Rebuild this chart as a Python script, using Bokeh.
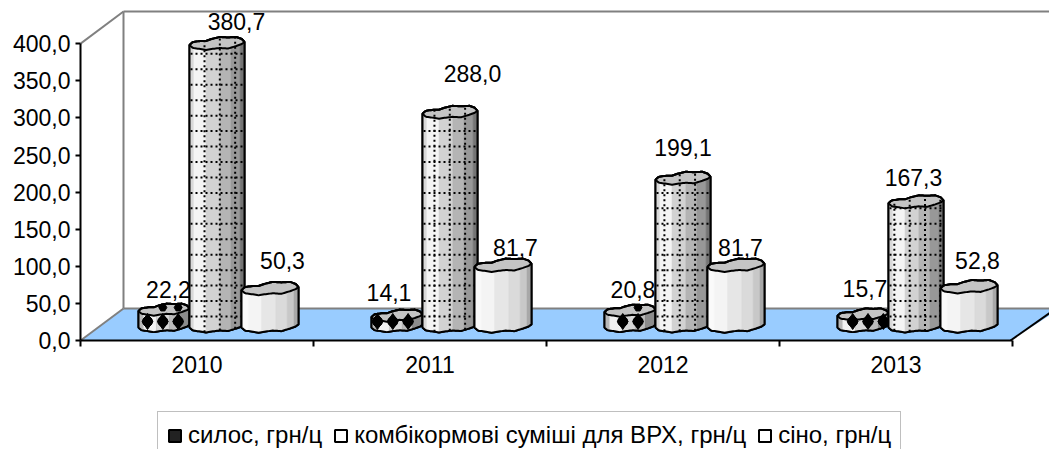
import numpy as np
from bokeh.embed import file_html
from bokeh.resources import INLINE
from bokeh.plotting import figure
from bokeh.layouts import column
from bokeh.models import ColumnDataSource, FixedTicker, Legend, LegendItem, LinearAxis
from bokeh.core.properties import value

# ---- data
categories = ["2010", "2011", "2012", "2013"]
silage = [22.2, 14.1, 20.8, 15.7]
compound = [380.7, 288.0, 199.1, 167.3]
hay = [50.3, 81.7, 81.7, 52.8]
series_names = ["силос, грн/ц", "комбікормові суміші для ВРХ, грн/ц", "сіно, грн/ц"]
y_ticks = [0, 50, 100, 150, 200, 250, 300, 350, 400]
y_tick_labels = ["0,0", "50,0", "100,0", "150,0", "200,0", "250,0", "300,0", "350,0", "400,0"]

# ---- style / geometry (pixels)
FONT = "Liberation Sans"
FS = "23px"
W, H = 1049, 449
CHART_H = 400
LEFT, BASE = 80, 340       # page pixel of the axes origin
PX_CAT = 233.0             # pixels per category
PX_VAL = 0.742             # pixels per value unit
DEPTH_X, DEPTH_Y = 43, 32  # 3-D floor depth
WALL_TOP = 11
FRONT = 13                 # bars stand this far behind the front edge

def sx(px):
    return (px - LEFT) / PX_CAT

def sv(px):
    return px / PX_VAL

p = figure(width=W, height=CHART_H, output_backend="svg", toolbar_location=None,
           x_range=(0, (W - LEFT) / PX_CAT), y_range=(0, BASE / PX_VAL),
           min_border_left=LEFT, min_border_right=0, min_border_top=0,
           min_border_bottom=CHART_H - BASE, outline_line_color=None,
           x_axis_type=None, y_axis_type=None, background_fill_color="white")
p.xgrid.visible = False
p.ygrid.visible = False

yax = LinearAxis(ticker=FixedTicker(ticks=y_ticks), bounds=(0, 400),
                 major_label_overrides=dict(zip(y_ticks, y_tick_labels)))
yax.axis_line_color = "black"; yax.axis_line_width = 2
yax.major_tick_line_color = "black"; yax.major_tick_line_width = 2
yax.major_tick_in = 0; yax.major_tick_out = 5
yax.minor_tick_line_color = None
yax.major_label_standoff = 5
yax.major_label_text_font = FONT; yax.major_label_text_font_size = FS
yax.major_label_text_color = "black"
p.add_layout(yax, "left")

centres = [i + 0.5 for i in range(len(categories))]
xax = LinearAxis(ticker=FixedTicker(ticks=centres, minor_ticks=list(range(len(categories) + 1))),
                 bounds=(0, len(categories)),
                 major_label_overrides=dict(zip(centres, categories)))
xax.axis_line_color = "black"; xax.axis_line_width = 2
xax.major_tick_line_color = None
xax.major_tick_in = 0; xax.major_tick_out = 0
xax.minor_tick_line_color = "black"; xax.minor_tick_line_width = 2
xax.minor_tick_in = 0; xax.minor_tick_out = 6
xax.major_label_standoff = 9
xax.major_label_text_font = FONT; xax.major_label_text_font_size = FS
xax.major_label_text_color = "black"
p.add_layout(xax, "below")

# ---- walls and floor
xmax = 1060
wall_top_v = sv(BASE - WALL_TOP)
depth_v = sv(DEPTH_Y)
p.patch([0, sx(DEPTH_X + LEFT), sx(xmax), sx(LEFT + 4 * PX_CAT - 2)],
        [0, depth_v, depth_v, 0], fill_color="#99ccff", line_color=None, level="underlay")
wall_x = sx(LEFT + DEPTH_X)
p.line([wall_x, wall_x], [depth_v, wall_top_v], line_color="#808080", line_width=2)
p.line([wall_x, sx(xmax)], [wall_top_v, wall_top_v], line_color="#808080", line_width=2)
p.line([wall_x, sx(xmax)], [depth_v, depth_v], line_color="#808080", line_width=2)
p.line([0, wall_x], [0, depth_v], line_color="#808080", line_width=2)
p.line([0, wall_x], [400, wall_top_v], line_color="#808080", line_width=2)
p.line([sx(LEFT + 4 * PX_CAT - 2), sx(1060)], [0, sv(35)], line_color="black", line_width=2)

# ---- lumpy cylinder outline (fraction of width -> px from the left edge level)
U = [0, .06, .2, .3, .4, .55, .7, .85, .95, 1]
UP = [0, 3, 4, 4, 6, 8, 7.5, 8, 6, 3]
LOW = [0, -3, -4, -5, -4, -3, -3.5, -1, 1, 3]

def contour(u, prof, scale):
    return np.interp(u, U, prof) * scale

series = [
    dict(vals=silage, left=58, right=109, fill="#222222", top="#c4c4c4",
         bands=[(0, .1, "#b8b8b8"), (.1, .35, "#f2f2f2"), (.35, .6, "#d8d8d8"), (.6, .8, "#bcbcbc"), (.8, 1, "#8c8c8c")]),
    dict(vals=compound, left=109, right=164, fill="#ffffff", top="#c4c4c4",
         bands=[(0, .08, "#d8d8d8"), (.08, .3, "#f4f4f4"), (.3, .55, "#d2d2d2"), (.55, .75, "#b4b4b4"), (.75, .92, "#989898"), (.92, 1, "#747474")]),
    dict(vals=hay, left=161, right=218, fill="#ffffff", top="#c4c4c4",
         bands=[(0, .12, "#fafafa"), (.12, .35, "#f4f4f4"), (.35, .6, "#e6e6e6"), (.6, .8, "#dadada"), (.8, .92, "#c8c8c8"), (.92, 1, "#a8a8a8")]),
]
label_dx = [[4.5, -8, 3, 2], [19.5, 22.5, 0, -2.5], [12.5, 12.5, 4.5, 8.5]]
label_dy = [[21.5, 24.5, 23, 27], [24, 40, 32, 26], [30, 19, 19, 28]]

labels_x, labels_y, labels_t = [], [], []
for si, s in enumerate(series):
    wpx = s["right"] - s["left"]
    scale = wpx / 55.0
    us = np.linspace(0, 1, 41)
    bx, by = [], []       # whole outline
    tx, ty = [], []       # top faces
    st_x, st_y, st_c = [], [], []
    h_x, h_y, v_x, v_y = [], [], [], []
    front_x, front_y, back_x, back_y = [], [], [], []
    for ci, v in enumerate(s["vals"]):
        x0 = LEFT + ci * PX_CAT + s["left"]
        yb = FRONT
        yt = FRONT + v * PX_VAL
        xs = x0 + us * wpx
        low = contour(us, LOW, scale)
        up = contour(us, UP, scale)
        bx.append(list(sx(np.concatenate([xs, xs[::-1]]))))
        by.append(list(sv(np.concatenate([yb + low, (yt + up)[::-1]]))))
        tx.append(list(sx(np.concatenate([xs, xs[::-1]]))))
        ty.append(list(sv(np.concatenate([yt + low, (yt + up)[::-1]]))))
        for a, b, c in s["bands"]:
            ub = np.linspace(a, b, 7)
            xb = x0 + ub * wpx
            lo = contour(ub, LOW, scale)
            st_x.append(list(sx(np.concatenate([xb, xb[::-1]]))))
            st_y.append(list(sv(np.concatenate([yb + lo, (yt + lo)[::-1]]))))
            st_c.append(c)
        if si == 1:
            k0 = 204.0
            for k in range(0, 60):
                gx = k0 + k * 15.33
                if x0 + 2 < gx < x0 + wpx - 1:
                    u = (gx - x0) / wpx
                    v_x.append([sx(gx), sx(gx)])
                    v_y.append([sv(yb + contour(u, LOW, scale)), sv(yt + contour(u, UP, scale))])
            for k in range(0, 30):
                gy = BASE - (316 - k * 15.45)
                if yb + 3 < gy < yt - 3:
                    h_x.append([sx(x0 + 1), sx(x0 + wpx - 1)])
                    h_y.append([sv(gy), sv(gy)])
        if si == 0:
            for k in range(0, 50):
                gx = 147 + k * 15.33
                if x0 + 3 < gx < x0 + wpx - 3:
                    u = (gx - x0) / wpx
                    front_x.append(sx(gx)); front_y.append(sv(BASE - 321))
                    if BASE - 307 < yt + contour(u, UP, scale) - 1:
                        back_x.append(sx(gx)); back_y.append(sv(BASE - 307))
        labels_x.append(sx(x0 + wpx / 2 + label_dx[si][ci]))
        labels_y.append(sv(yt + label_dy[si][ci]))
        labels_t.append(f"{v:.1f}".replace(".", ","))

    p.patches(bx, by, fill_color=s["fill"], line_color="black", line_width=2)
    p.patches(st_x, st_y, fill_color=st_c, line_color=st_c, line_width=0.5)
    p.patches(tx, ty, fill_color=s["top"], line_color=None)
    if si == 0:
        p.scatter(front_x, front_y, marker="diamond", size=16, fill_color="black", line_color="black")
        p.scatter(front_x, front_y, marker="circle", size=10, fill_color="black", line_color="black")
        p.scatter(back_x, back_y, marker="hex", size=8, fill_color="black", line_color="black")
    if si == 1:
        p.multi_line(h_x, h_y, line_color="black", line_width=2, line_dash="2 3")
        p.multi_line(v_x, v_y, line_color="black", line_width=2, line_dash="2 3")
    p.patches(bx, by, fill_color=None, line_color="black", line_width=2)
    p.patches(tx, ty, fill_color=None, line_color="black", line_width=2)

src = ColumnDataSource(dict(x=labels_x, y=labels_y, t=labels_t))
p.text("x", "y", text="t", source=src, text_align="center", text_baseline="middle",
       text_font=value(FONT), text_font_size=FS, text_color="black")

# ---- legend strip (own small figure, directly below the chart)
LEG_H = H - CHART_H
q = figure(width=W, height=LEG_H, output_backend="svg", toolbar_location=None,
           x_range=(LEFT, W), y_range=(H, CHART_H), min_border=0, outline_line_color=None,
           x_axis_type=None, y_axis_type=None)
q.xgrid.visible = False
q.ygrid.visible = False
items = []
for name, s in zip(series_names, series):
    r = q.patches([[]], [[]], fill_color=s["fill"], line_color="black", line_width=2)
    items.append(LegendItem(label=name, renderers=[r]))
leg = Legend(items=items, orientation="horizontal", location=(157 - LEFT, -10),
             glyph_width=15, glyph_height=15, label_standoff=6, spacing=11, padding=9, margin=0,
             label_text_font=FONT, label_text_font_size="24px", label_text_color="black",
             border_line_color="#808080", border_line_width=1.5, background_fill_color="white",
             background_fill_alpha=1)
q.add_layout(leg, "center")
# small pattern accents inside the first two legend swatches
q.scatter([172], [432], marker="square", size=5, fill_color="white", line_color=None, level="overlay")
q.scatter([343, 343, 343], [431, 435, 439], marker="square", size=2, fill_color="#666666",
          line_color=None, level="overlay")

open("out.html", "w").write(file_html(column(p, q, spacing=0), INLINE))
